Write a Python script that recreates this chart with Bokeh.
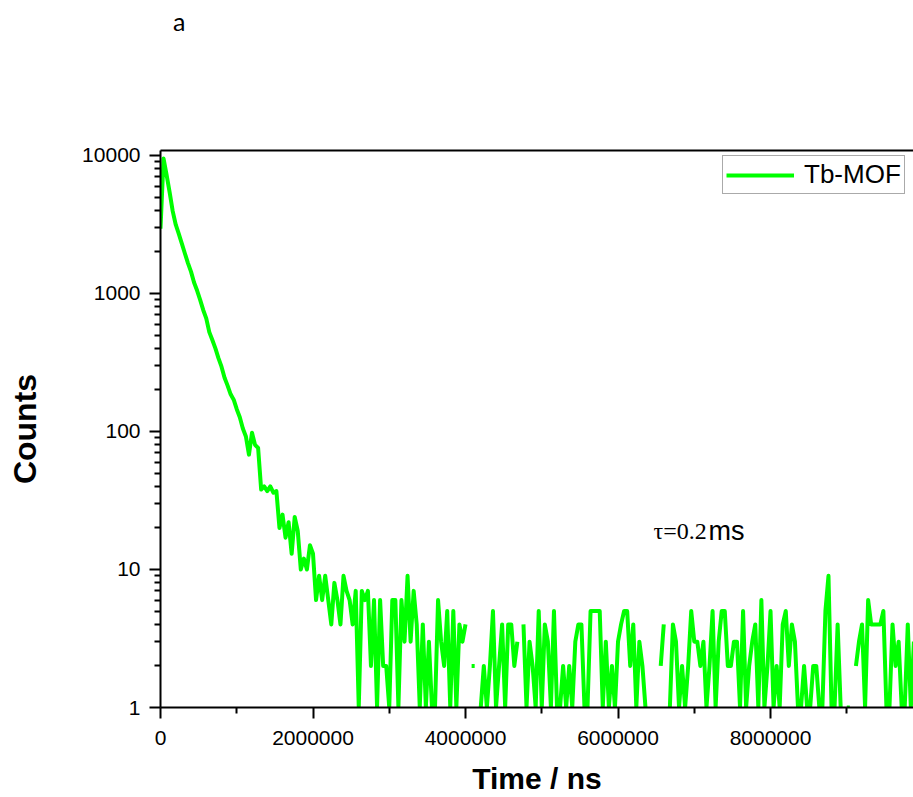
import numpy as np
from bokeh.plotting import figure
from bokeh.layouts import column
from bokeh.models import (FixedTicker, NumeralTickFormatter, Range1d, LinearAxis,
                          Label, Legend, LegendItem, ColumnDataSource, Div)
from bokeh.embed import file_html
from bokeh.resources import INLINE

# ---------------- data ----------------
time_step_ns = 40000
counts = [
    2950, 9500, 7250, 5400, 3950, 3150, 2700, 2300, 1950, 1660,
    1440, 1200, 1050, 900, 760, 660, 525, 460, 400, 340,
    295, 245, 215, 186, 170, 145, 127, 105, 92, 68,
    98, 80, 76, 38, 40, 37, 40, 36, 37, 20,
    25, 17, 22, 13, 24, 19, 10, 12, 10, 15,
    13, 6, 9, 6, 9, 6, 4, 8, 6, 4,
    9, 7, 6, 4, 7, 1, 7, 6, 7, 2,
    6, 1, 6, 2, 2, 1, 6, 6, 1, 6,
    3, 9, 3, 7, 4, 1, 4, 1, 3, 1,
    1, 6, 3, 2, 5, 1, 5, 1, 4, 3,
    4, 0, 2, 2, 0, 1, 2, 1, 2, 5,
    1, 2, 4, 1, 4, 4, 2, 3, 0, 4,
    1, 3, 2, 1, 5, 1, 4, 3, 1, 5,
    1, 1, 2, 1, 2, 1, 3, 4, 4, 1,
    1, 5, 5, 5, 5, 1, 3, 1, 2, 1,
    3, 4, 5, 5, 2, 4, 1, 3, 2, 1,
    0, 0, 0, 0, 2, 4, 0, 1, 4, 3,
    1, 2, 1, 2, 5, 3, 3, 2, 3, 1,
    2, 5, 1, 3, 5, 5, 2, 2, 3, 3,
    1, 5, 1, 2, 3, 4, 1, 6, 1, 2,
    5, 1, 2, 1, 4, 5, 2, 4, 3, 1,
    1, 2, 1, 1, 2, 2, 1, 1, 5, 9,
    1, 1, 4, 1, 0, 1, 1, 0, 2, 3,
    4, 1, 6, 4, 4, 4, 4, 5, 1, 1,
    4, 2, 3, 1, 1, 4, 1, 3,
]
series_name = "Tb-MOF"
x_ticks = [0, 2000000, 4000000, 6000000, 8000000]
x_minor_ticks = [1000000, 3000000, 5000000, 7000000, 9000000]
y_ticks = [1, 10, 100, 1000, 10000]
x_label = "Time / ns"
y_label = "Counts"
tau_text = "τ=0.2"
tau_unit = "ms"
panel_letter = "a"

# ---------------- figure ----------------
t = np.arange(len(counts)) * time_step_ns
y = np.array(counts, dtype=float)
y[y <= 0] = np.nan
src = ColumnDataSource(dict(t=t, y=y))

head_h = 40
p = figure(width=913, height=797 - head_h, y_axis_type="log",
           x_range=Range1d(0, 9875000), y_range=Range1d(1, 10870),
           output_backend="svg", toolbar_location=None,
           min_border_left=160, min_border_right=0,
           min_border_top=150 - head_h, min_border_bottom=89)
p.outline_line_color = None
p.xgrid.visible = False
p.ygrid.visible = False
p.background_fill_color = "white"
p.border_fill_color = "white"

y_minor = [d * m for d in y_ticks[:-1] for m in range(2, 10)]
p.yaxis[0].ticker = FixedTicker(ticks=y_ticks, minor_ticks=y_minor)
p.xaxis[0].ticker = FixedTicker(ticks=x_ticks, minor_ticks=x_minor_ticks)
p.xaxis[0].formatter = NumeralTickFormatter(format="0")
p.yaxis[0].formatter = NumeralTickFormatter(format="0")

for ax in (p.xaxis[0], p.yaxis[0]):
    ax.axis_line_width = 2
    ax.axis_line_color = "black"
    ax.major_tick_line_width = 2
    ax.minor_tick_line_width = 2
    ax.major_tick_line_color = "black"
    ax.minor_tick_line_color = "black"
    ax.major_tick_out = 11
    ax.major_tick_in = 0
    ax.minor_tick_out = 6
    ax.minor_tick_in = 0
    ax.major_label_text_font = "Liberation Sans"
    ax.major_label_text_font_size = "21px"
    ax.major_label_text_color = "black"
    ax.axis_label_text_font = "Liberation Sans"
    ax.axis_label_text_font_style = "bold"
    ax.axis_label_text_color = "black"
p.xaxis[0].axis_label_text_font_size = "30px"
p.yaxis[0].axis_label_text_font_size = "32px"
p.xaxis[0].major_label_standoff = 12
p.yaxis[0].major_label_standoff = 9
p.xaxis[0].axis_label = x_label
p.yaxis[0].axis_label = y_label
p.xaxis[0].axis_label_standoff = 14
p.yaxis[0].axis_label_standoff = 36

top = LinearAxis(ticker=FixedTicker(ticks=[]), axis_line_width=2,
                 axis_line_color="black", major_label_text_font_size="0px",
                 major_tick_out=0, minor_tick_out=0, major_tick_in=0,
                 minor_tick_in=0, major_label_standoff=0)
p.add_layout(top, "above")

r = p.line("t", "y", source=src, line_color="#00FF00", line_width=4,
           line_join="round")

legend = Legend(items=[LegendItem(label=series_name, renderers=[r])],
                location=(562, 513), padding=3, spacing=0, margin=0,
                glyph_width=68, glyph_height=26, label_height=26,
                label_standoff=10, label_text_font="Liberation Sans",
                label_text_font_size="26px", label_text_color="black",
                border_line_color="#555555",
                border_line_width=1, background_fill_color="white",
                background_fill_alpha=1.0)
p.add_layout(legend)

p.add_layout(Label(x=493, y=177, x_units="screen", y_units="screen",
                   text=tau_text, text_align="left",
                   text_baseline="alphabetic", text_font="Liberation Serif",
                   text_font_size="24px", text_color="black"))
p.add_layout(Label(x=548, y=177, x_units="screen", y_units="screen",
                   text=tau_unit, text_align="left",
                   text_baseline="alphabetic", text_font="Liberation Sans",
                   text_font_size="27px", text_color="black"))

head = Div(text=('<span style="position:relative;left:173px;top:9px;'
                 'font-family:Lato;font-size:25px;line-height:25px;'
                 'color:black">' + panel_letter + '</span>'),
           width=913, height=head_h, margin=0,
           styles={"line-height": "25px", "font-size": "25px"})

layout = column(head, p, spacing=0)
open("out.html", "w").write(file_html(layout, INLINE))
